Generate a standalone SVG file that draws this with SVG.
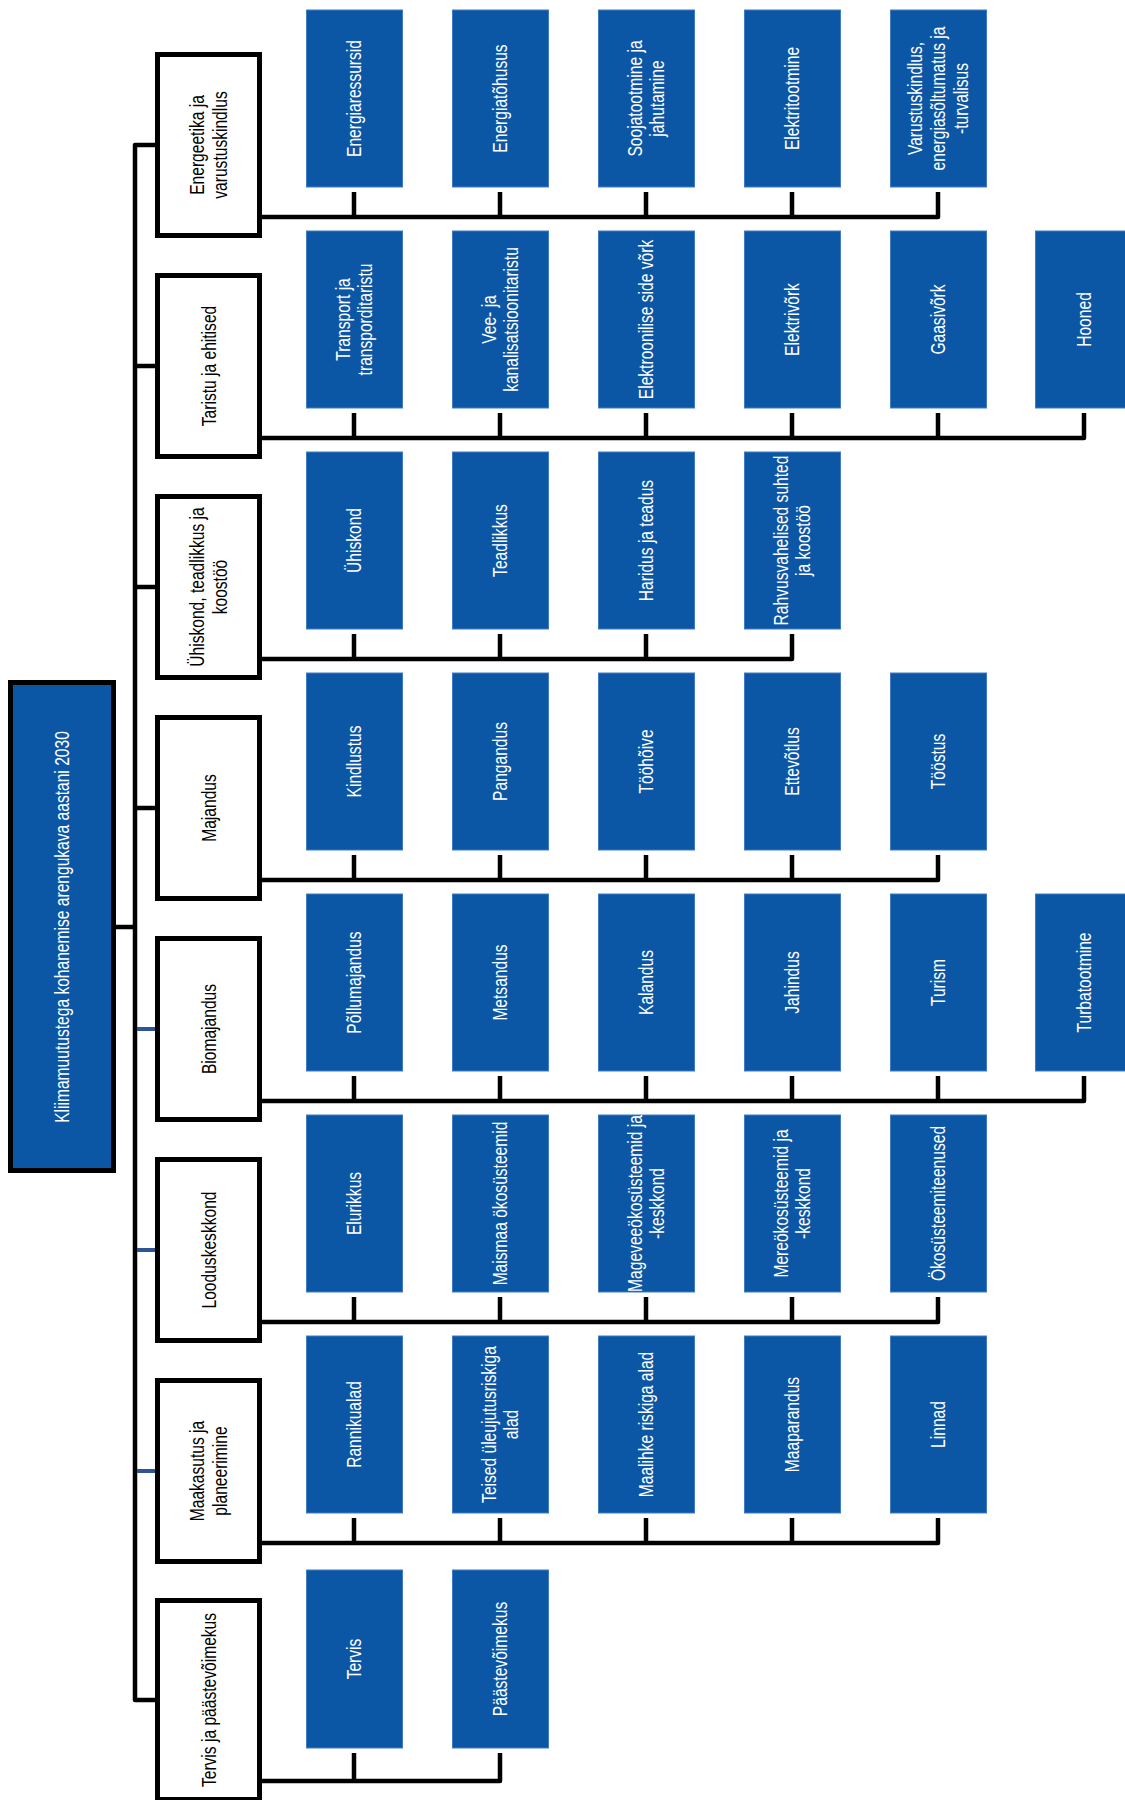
<svg xmlns="http://www.w3.org/2000/svg" width="1125" height="1800" viewBox="0 0 1125 1800">
<style>
text{font-family:"Liberation Sans",Arial,sans-serif;font-size:20px;text-anchor:middle}
.cat rect{fill:#fff;stroke:#000;stroke-width:5}
.cat text{fill:#000}
.sub rect{fill:#0C57A5;stroke:#3f7cc4;stroke-width:1}
.sub text,.root text{fill:#fff}
.root rect{fill:#0C57A5;stroke:#000;stroke-width:5}
.ln{fill:none;stroke:#000;stroke-width:4.5;stroke-linejoin:round}
.lb{fill:none;stroke:#2F5496;stroke-width:4}
</style>
<rect width="1125" height="1800" fill="#fff"/>
<g id="connectors">
<path class="ln" d="M157,145 H135 V1700 H157"/>
<path class="ln" d="M113,927 H135"/>
<path class="ln" d="M135,366 H157"/>
<path class="ln" d="M135,587 H157"/>
<path class="ln" d="M135,808 H157"/>
<path class="lb" d="M137,1029 H157"/>
<path class="lb" d="M137,1250 H157"/>
<path class="lb" d="M137,1471 H157"/>
<!-- row 1 -->
<path class="ln" d="M260,217 H938 V192"/>
<path class="ln" d="M354,192 V217 M500,192 V217 M646,192 V217 M792,192 V217"/>
<!-- row 2 -->
<path class="ln" d="M260,438 H1084 V413"/>
<path class="ln" d="M354,413 V438 M500,413 V438 M646,413 V438 M792,413 V438 M938,413 V438"/>
<!-- row 3 -->
<path class="ln" d="M260,659 H792 V634"/>
<path class="ln" d="M354,634 V659 M500,634 V659 M646,634 V659"/>
<!-- row 4 -->
<path class="ln" d="M260,880 H938 V855"/>
<path class="ln" d="M354,855 V880 M500,855 V880 M646,855 V880 M792,855 V880"/>
<!-- row 5 -->
<path class="ln" d="M260,1101 H1084 V1076"/>
<path class="ln" d="M354,1076 V1101 M500,1076 V1101 M646,1076 V1101 M792,1076 V1101 M938,1076 V1101"/>
<!-- row 6 -->
<path class="ln" d="M260,1322 H938 V1297"/>
<path class="ln" d="M354,1297 V1322 M500,1297 V1322 M646,1297 V1322 M792,1297 V1322"/>
<!-- row 7 -->
<path class="ln" d="M260,1543 H938 V1518"/>
<path class="ln" d="M354,1518 V1543 M500,1518 V1543 M646,1518 V1543 M792,1518 V1543"/>
<!-- row 8 -->
<path class="ln" d="M260,1781 H500 V1753"/>
<path class="ln" d="M354,1753 V1781"/>
</g>

<g id="root" class="root">
<rect x="10.5" y="682.5" width="103" height="488"/>
<text transform="translate(62,927) rotate(-90) scale(0.78,1)" y="7">Kliimamuutustega kohanemise arengukava aastani 2030</text>
</g>

<!-- categories -->
<g id="cat-energeetika" class="cat">
<rect x="157.5" y="54.5" width="102" height="181"/>
<text transform="translate(208.5,145) rotate(-90) scale(0.78,1)"><tspan x="0" y="-4.5">Energeetika ja</tspan><tspan x="0" y="18.5">varustuskindlus</tspan></text>
</g>
<g id="cat-taristu" class="cat">
<rect x="157.5" y="275.5" width="102" height="181"/>
<text transform="translate(208.5,366) rotate(-90) scale(0.78,1)" y="7">Taristu ja ehitised</text>
</g>
<g id="cat-uhiskond" class="cat">
<rect x="157.5" y="496.5" width="102" height="181"/>
<text transform="translate(208.5,587) rotate(-90) scale(0.78,1)"><tspan x="0" y="-4.5">Ühiskond, teadlikkus ja</tspan><tspan x="0" y="18.5">koostöö</tspan></text>
</g>
<g id="cat-majandus" class="cat">
<rect x="157.5" y="717.5" width="102" height="181"/>
<text transform="translate(208.5,808) rotate(-90) scale(0.78,1)" y="7">Majandus</text>
</g>
<g id="cat-biomajandus" class="cat">
<rect x="157.5" y="938.5" width="102" height="181"/>
<text transform="translate(208.5,1029) rotate(-90) scale(0.78,1)" y="7">Biomajandus</text>
</g>
<g id="cat-looduskeskkond" class="cat">
<rect x="157.5" y="1159.5" width="102" height="181"/>
<text transform="translate(208.5,1250) rotate(-90) scale(0.78,1)" y="7">Looduskeskkond</text>
</g>
<g id="cat-maakasutus" class="cat">
<rect x="157.5" y="1380.5" width="102" height="181"/>
<text transform="translate(208.5,1471) rotate(-90) scale(0.78,1)"><tspan x="0" y="-4.5">Maakasutus ja</tspan><tspan x="0" y="18.5">planeerimine</tspan></text>
</g>
<g id="cat-tervis" class="cat">
<rect x="157.5" y="1600.5" width="102" height="199"/>
<text transform="translate(208.5,1700) rotate(-90) scale(0.78,1)" y="7">Tervis ja päästevõimekus</text>
</g>

<!-- row 1 -->
<g id="r1c1" class="sub"><rect x="306.5" y="10" width="96" height="177"/><text transform="translate(354,98.5) rotate(-90) scale(0.78,1)" y="7">Energiaressursid</text></g>
<g id="r1c2" class="sub"><rect x="452.5" y="10" width="96" height="177"/><text transform="translate(500,98.5) rotate(-90) scale(0.78,1)" y="7">Energiatõhusus</text></g>
<g id="r1c3" class="sub"><rect x="598.5" y="10" width="96" height="177"/><text transform="translate(646,98.5) rotate(-90) scale(0.78,1)"><tspan x="0" y="-4.5">Soojatootmine ja</tspan><tspan x="0" y="18.5">jahutamine</tspan></text></g>
<g id="r1c4" class="sub"><rect x="744.5" y="10" width="96" height="177"/><text transform="translate(792,98.5) rotate(-90) scale(0.78,1)" y="7">Elektritootmine</text></g>
<g id="r1c5" class="sub"><rect x="890.5" y="10" width="96" height="177"/><text transform="translate(938,98.5) rotate(-90) scale(0.78,1)"><tspan x="0" y="-16">Varustuskindlus,</tspan><tspan x="0" y="7">energiasõltumatus ja</tspan><tspan x="0" y="30">-turvalisus</tspan></text></g>

<!-- row 2 -->
<g id="r2c1" class="sub"><rect x="306.5" y="231" width="96" height="177"/><text transform="translate(354,319.5) rotate(-90) scale(0.78,1)"><tspan x="0" y="-4.5">Transport ja</tspan><tspan x="0" y="18.5">transporditaristu</tspan></text></g>
<g id="r2c2" class="sub"><rect x="452.5" y="231" width="96" height="177"/><text transform="translate(500,319.5) rotate(-90) scale(0.78,1)"><tspan x="0" y="-4.5">Vee- ja</tspan><tspan x="0" y="18.5">kanalisatsioonitaristu</tspan></text></g>
<g id="r2c3" class="sub"><rect x="598.5" y="231" width="96" height="177"/><text transform="translate(646,319.5) rotate(-90) scale(0.78,1)" y="7">Elektroonilise side võrk</text></g>
<g id="r2c4" class="sub"><rect x="744.5" y="231" width="96" height="177"/><text transform="translate(792,319.5) rotate(-90) scale(0.78,1)" y="7">Elektrivõrk</text></g>
<g id="r2c5" class="sub"><rect x="890.5" y="231" width="96" height="177"/><text transform="translate(938,319.5) rotate(-90) scale(0.78,1)" y="7">Gaasivõrk</text></g>
<g id="r2c6" class="sub"><rect x="1035.5" y="231" width="96" height="177"/><text transform="translate(1084,319.5) rotate(-90) scale(0.78,1)" y="7">Hooned</text></g>

<!-- row 3 -->
<g id="r3c1" class="sub"><rect x="306.5" y="452" width="96" height="177"/><text transform="translate(354,540.5) rotate(-90) scale(0.78,1)" y="7">Ühiskond</text></g>
<g id="r3c2" class="sub"><rect x="452.5" y="452" width="96" height="177"/><text transform="translate(500,540.5) rotate(-90) scale(0.78,1)" y="7">Teadlikkus</text></g>
<g id="r3c3" class="sub"><rect x="598.5" y="452" width="96" height="177"/><text transform="translate(646,540.5) rotate(-90) scale(0.78,1)" y="7">Haridus ja teadus</text></g>
<g id="r3c4" class="sub"><rect x="744.5" y="452" width="96" height="177"/><text transform="translate(792,540.5) rotate(-90) scale(0.78,1)"><tspan x="0" y="-4.5">Rahvusvahelised suhted</tspan><tspan x="0" y="18.5">ja koostöö</tspan></text></g>

<!-- row 4 -->
<g id="r4c1" class="sub"><rect x="306.5" y="673" width="96" height="177"/><text transform="translate(354,761.5) rotate(-90) scale(0.78,1)" y="7">Kindlustus</text></g>
<g id="r4c2" class="sub"><rect x="452.5" y="673" width="96" height="177"/><text transform="translate(500,761.5) rotate(-90) scale(0.78,1)" y="7">Pangandus</text></g>
<g id="r4c3" class="sub"><rect x="598.5" y="673" width="96" height="177"/><text transform="translate(646,761.5) rotate(-90) scale(0.78,1)" y="7">Tööhõive</text></g>
<g id="r4c4" class="sub"><rect x="744.5" y="673" width="96" height="177"/><text transform="translate(792,761.5) rotate(-90) scale(0.78,1)" y="7">Ettevõtlus</text></g>
<g id="r4c5" class="sub"><rect x="890.5" y="673" width="96" height="177"/><text transform="translate(938,761.5) rotate(-90) scale(0.78,1)" y="7">Tööstus</text></g>

<!-- row 5 -->
<g id="r5c1" class="sub"><rect x="306.5" y="894" width="96" height="177"/><text transform="translate(354,982.5) rotate(-90) scale(0.78,1)" y="7">Põllumajandus</text></g>
<g id="r5c2" class="sub"><rect x="452.5" y="894" width="96" height="177"/><text transform="translate(500,982.5) rotate(-90) scale(0.78,1)" y="7">Metsandus</text></g>
<g id="r5c3" class="sub"><rect x="598.5" y="894" width="96" height="177"/><text transform="translate(646,982.5) rotate(-90) scale(0.78,1)" y="7">Kalandus</text></g>
<g id="r5c4" class="sub"><rect x="744.5" y="894" width="96" height="177"/><text transform="translate(792,982.5) rotate(-90) scale(0.78,1)" y="7">Jahindus</text></g>
<g id="r5c5" class="sub"><rect x="890.5" y="894" width="96" height="177"/><text transform="translate(938,982.5) rotate(-90) scale(0.78,1)" y="7">Turism</text></g>
<g id="r5c6" class="sub"><rect x="1035.5" y="894" width="96" height="177"/><text transform="translate(1084,982.5) rotate(-90) scale(0.78,1)" y="7">Turbatootmine</text></g>

<!-- row 6 -->
<g id="r6c1" class="sub"><rect x="306.5" y="1115" width="96" height="177"/><text transform="translate(354,1203.5) rotate(-90) scale(0.78,1)" y="7">Elurikkus</text></g>
<g id="r6c2" class="sub"><rect x="452.5" y="1115" width="96" height="177"/><text transform="translate(500,1203.5) rotate(-90) scale(0.78,1)" y="7">Maismaa ökosüsteemid</text></g>
<g id="r6c3" class="sub"><rect x="598.5" y="1115" width="96" height="177"/><text transform="translate(646,1203.5) rotate(-90) scale(0.78,1)"><tspan x="0" y="-4.5">Mageveeökosüsteemid ja</tspan><tspan x="0" y="18.5">-keskkond</tspan></text></g>
<g id="r6c4" class="sub"><rect x="744.5" y="1115" width="96" height="177"/><text transform="translate(792,1203.5) rotate(-90) scale(0.78,1)"><tspan x="0" y="-4.5">Mereökosüsteemid ja</tspan><tspan x="0" y="18.5">-keskkond</tspan></text></g>
<g id="r6c5" class="sub"><rect x="890.5" y="1115" width="96" height="177"/><text transform="translate(938,1203.5) rotate(-90) scale(0.78,1)" y="7">Ökosüsteemiteenused</text></g>

<!-- row 7 -->
<g id="r7c1" class="sub"><rect x="306.5" y="1336" width="96" height="177"/><text transform="translate(354,1424.5) rotate(-90) scale(0.78,1)" y="7">Rannikualad</text></g>
<g id="r7c2" class="sub"><rect x="452.5" y="1336" width="96" height="177"/><text transform="translate(500,1424.5) rotate(-90) scale(0.78,1)"><tspan x="0" y="-4.5">Teised üleujutusriskiga</tspan><tspan x="0" y="18.5">alad</tspan></text></g>
<g id="r7c3" class="sub"><rect x="598.5" y="1336" width="96" height="177"/><text transform="translate(646,1424.5) rotate(-90) scale(0.78,1)" y="7">Maalihke riskiga alad</text></g>
<g id="r7c4" class="sub"><rect x="744.5" y="1336" width="96" height="177"/><text transform="translate(792,1424.5) rotate(-90) scale(0.78,1)" y="7">Maaparandus</text></g>
<g id="r7c5" class="sub"><rect x="890.5" y="1336" width="96" height="177"/><text transform="translate(938,1424.5) rotate(-90) scale(0.78,1)" y="7">Linnad</text></g>

<!-- row 8 -->
<g id="r8c1" class="sub"><rect x="306.5" y="1570" width="96" height="178"/><text transform="translate(354,1659) rotate(-90) scale(0.78,1)" y="7">Tervis</text></g>
<g id="r8c2" class="sub"><rect x="452.5" y="1570" width="96" height="178"/><text transform="translate(500,1659) rotate(-90) scale(0.78,1)" y="7">Päästevõimekus</text></g>
</svg>
